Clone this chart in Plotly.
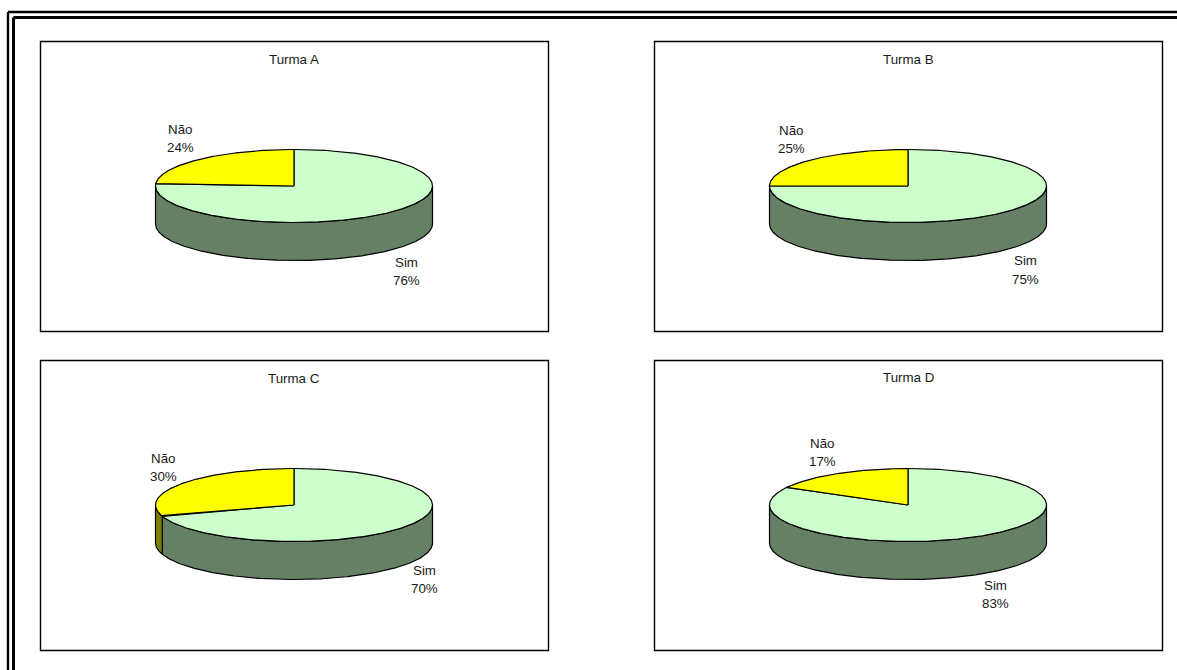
import numpy as np
import plotly.graph_objects as go

# ---- data ----
turmas = ["Turma A", "Turma B", "Turma C", "Turma D"]
categorias = ["Sim", "Não"]
sim_pct = [76, 75, 70, 83]
nao_pct = [24, 25, 30, 17]

# ---- layout / style (pixels) ----
W, H = 1177, 670
FRAMES = [(40.5, 41.5), (654.5, 41.5), (40.5, 360.5), (654.5, 360.5)]
FRAME_W, FRAME_H = 508, 290
CENTER = (253.5, 144.5)      # pie centre inside a frame
RX, RY, DEPTH = 138.5, 36.5, 38
TITLE_Y = [18, 18, 18, 17]
SIM_LABEL = [(112, 85.5), (117, 84), (130, 74.5), (87, 89.5)]   # offset from centre to the label block
NAO_LABEL = [(-114, -47.5), (-117, -46.5), (-131, -37.5), (-86, -52.5)]
LINE_GAP = 18.5
TOP_COL = {"Sim": "#CCFFCC", "Não": "#FFFF00"}
SIDE_COL = {"Sim": "#668066", "Não": "#808000"}
FONT = dict(family="Liberation Sans, Arial, sans-serif", size=13.33, color="#1a1a1a")


def arc(t0, t1, drop=0.0):
    t = np.radians(np.linspace(t0, t1, max(int(abs(t1 - t0) * 2), 2)))
    return RX * np.sin(t), RY * np.cos(t) - drop


def top_slice(t0, t1):
    x, y = arc(t0, t1)
    return np.r_[0, x, 0], np.r_[0, y, 0]


def side_wall(t0, t1):
    a, b = max(t0, 90), min(t1, 270)
    if b <= a:
        return None
    x0, y0 = arc(a, b)
    x1, y1 = arc(b, a, DEPTH)
    return np.r_[x0, x1, x0[0]], np.r_[y0, y1, y0[0]]


fig = go.Figure()
annotations, shapes = [], []


def poly(xy, fill, ax):
    fig.add_trace(go.Scatter(
        x=xy[0], y=xy[1], mode="lines", fill="toself", fillcolor=fill,
        line=dict(color="#000000", width=1.2), hoverinfo="skip", showlegend=False,
        xaxis="x" + ax, yaxis="y" + ax))


layout_axes = {}
for i, nome in enumerate(turmas):
    ax = "" if i == 0 else str(i + 1)
    fx, fy = FRAMES[i]
    cx, cy = CENTER
    layout_axes["xaxis" + ax] = dict(
        domain=[fx / W, (fx + FRAME_W) / W], range=[-cx, FRAME_W - cx],
        visible=False, fixedrange=True, anchor="y" + ax)
    layout_axes["yaxis" + ax] = dict(
        domain=[1 - (fy + FRAME_H) / H, 1 - fy / H], range=[cy - FRAME_H, cy],
        visible=False, fixedrange=True, anchor="x" + ax)
    sim_end = 360 * sim_pct[i] / 100
    spans = {"Sim": (0, sim_end), "Não": (sim_end, 360)}
    for c in categorias:
        w = side_wall(*spans[c])
        if w is not None:
            poly(w, SIDE_COL[c], ax)
    for c in categorias:
        poly(top_slice(*spans[c]), TOP_COL[c], ax)

    shapes.append(dict(type="rect", xref="paper", yref="paper",
                       x0=fx / W, x1=(fx + FRAME_W) / W,
                       y0=1 - (fy + FRAME_H) / H, y1=1 - fy / H,
                       line=dict(color="#000000", width=1.4)))

    def text(s, x, y):
        annotations.append(dict(text=s, x=x, y=y, xref="x" + ax, yref="y" + ax,
                                showarrow=False, font=FONT, xanchor="center",
                                yanchor="middle"))

    text(nome, 0, cy - TITLE_Y[i])
    for c, off, val in (("Sim", SIM_LABEL[i], sim_pct[i]), ("Não", NAO_LABEL[i], nao_pct[i])):
        text(c, off[0], -off[1] + LINE_GAP / 2)
        text(f"{val}%", off[0], -off[1] - LINE_GAP / 2)

# outer double border (runs off the right and bottom of the page)
for pos, width in ((8, 2.4), (13.5, 3)):
    shapes.append(dict(type="line", xref="paper", yref="paper",
                       x0=pos / W, x1=pos / W, y0=0, y1=1 - (pos + 4) / H,
                       line=dict(color="#000000", width=width)))
    shapes.append(dict(type="line", xref="paper", yref="paper",
                       x0=pos / W, x1=1, y0=1 - (pos + 4) / H, y1=1 - (pos + 4) / H,
                       line=dict(color="#000000", width=width)))

fig.update_layout(
    width=W, height=H, margin=dict(l=0, r=0, t=0, b=0, pad=0),
    paper_bgcolor="#FFFFFF", plot_bgcolor="rgba(0,0,0,0)",
    showlegend=False, shapes=shapes, annotations=annotations, **layout_axes)

fig.write_html("out.html", config={"displayModeBar": False},
               post_script="document.body.style.margin='0';document.body.style.overflow='hidden';")
